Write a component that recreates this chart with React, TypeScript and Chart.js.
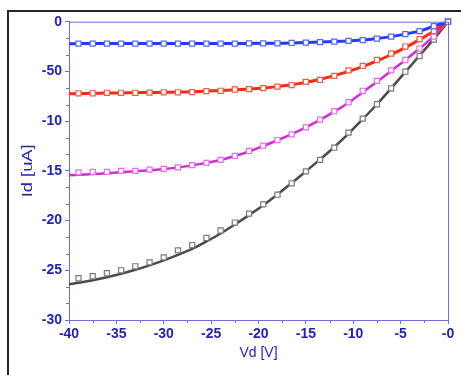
import { useEffect, useRef } from 'react';
import { Chart, registerables } from 'chart.js';

Chart.register(...registerables);

// Measured drain voltages (V)
const xMeas = [-39, -37.5, -36, -34.5, -33, -31.5, -30, -28.5, -27, -25.5, -24, -22.5, -21, -19.5, -18, -16.5, -15, -13.5, -12, -10.5, -9, -7.5, -6, -4.5, -3, -1.5, 0];
// Fit curve voltages (V)
const xFit = [-40, -39, -37.5, -36, -34.5, -33, -31.5, -30, -28.5, -27, -25.5, -24, -22.5, -21, -19.5, -18, -16.5, -15, -13.5, -12, -10.5, -9, -7.5, -6, -4.5, -3, -1.5, 0];

// Measured Id (uA)
const blueMeas = [-2.2, -2.2, -2.2, -2.2, -2.2, -2.2, -2.2, -2.2, -2.2, -2.2, -2.2, -2.2, -2.18, -2.18, -2.17, -2.14, -2.1, -2.05, -2.0, -1.93, -1.85, -1.7, -1.5, -1.25, -0.95, -0.45, 0];
const redMeas = [-7.2, -7.2, -7.15, -7.15, -7.15, -7.13, -7.1, -7.1, -7.08, -6.98, -6.95, -6.82, -6.78, -6.68, -6.53, -6.37, -6.05, -5.85, -5.45, -4.9, -4.45, -3.85, -3.2, -2.5, -1.75, -0.95, 0];
const magentaMeas = [-15.15, -15.1, -15.1, -15.0, -15.0, -14.88, -14.8, -14.65, -14.42, -14.2, -13.9, -13.5, -13.0, -12.47, -11.9, -11.33, -10.63, -9.85, -9.0, -8.1, -6.95, -5.95, -4.9, -3.85, -2.7, -1.5, 0];
const grayMeas = [-25.8, -25.6, -25.3, -25.0, -24.6, -24.2, -23.7, -23.0, -22.46, -21.75, -21.0, -20.2, -19.3, -18.37, -17.4, -16.25, -15.05, -13.9, -12.67, -11.16, -9.75, -8.3, -6.7, -5.03, -3.45, -1.8, 0];

// Fit Id (uA)
const blueFit = [-2.22, -2.2, -2.2, -2.2, -2.2, -2.2, -2.2, -2.2, -2.2, -2.2, -2.2, -2.2, -2.2, -2.18, -2.18, -2.17, -2.14, -2.1, -2.05, -2.0, -1.93, -1.85, -1.7, -1.5, -1.25, -0.95, -0.45, 0];
const redFit = [-7.25, -7.22, -7.2, -7.18, -7.16, -7.14, -7.12, -7.1, -7.08, -7.04, -6.98, -6.93, -6.85, -6.77, -6.67, -6.53, -6.35, -6.1, -5.78, -5.42, -5.0, -4.52, -3.95, -3.3, -2.6, -1.8, -0.95, 0];
const magentaFit = [-15.45, -15.4, -15.32, -15.25, -15.15, -15.05, -14.95, -14.82, -14.65, -14.45, -14.2, -13.9, -13.5, -13.05, -12.5, -11.92, -11.3, -10.62, -9.87, -9.05, -8.15, -7.1, -6.05, -4.95, -3.85, -2.7, -1.45, 0];
const grayFit = [-26.4, -26.25, -26.0, -25.7, -25.35, -24.95, -24.5, -24.0, -23.45, -22.85, -22.1, -21.3, -20.4, -19.45, -18.45, -17.38, -16.22, -15.05, -13.85, -12.6, -11.25, -9.8, -8.3, -6.7, -5.05, -3.4, -1.75, 0];

// Tick labels
const xTickValues = [-40, -35, -30, -25, -20, -15, -10, -5, 0];
const xTickLabels = ['-40', '-35', '-30', '-25', '-20', '-15', '-10', '-5', '-0'];
const yTickValues = [0, -5, -10, -15, -20, -25, -30];
const yTickLabels = ['0', '-50', '-10', '-15', '-20', '-25', '-30'];
const yTitle = 'Id [uA]';
const xTitle = 'Vd [V]';

const AXIS = '#6f6fd2';
const LABEL = '#2424a8';
const FONT = '"Liberation Sans", Arial, sans-serif';

const pts = (xs: number[], ys: number[]) => xs.map((x, i) => ({ x, y: ys[i] }));

export default function App() {
  const ref = useRef<HTMLCanvasElement | null>(null);

  useEffect(() => {
    if (!ref.current) return;

    const decor = {
      id: 'decor',
      beforeDraw(chart: any) {
        const ctx = chart.ctx;
        ctx.save();
        ctx.fillStyle = '#ffffff';
        ctx.fillRect(0, 0, chart.width, chart.height);
        ctx.fillStyle = '#262626';
        ctx.fillRect(7, 10, 2, chart.height - 10);
        ctx.fillRect(7, 10, chart.width - 7, 2);
        ctx.restore();
      },
      afterDraw(chart: any) {
        const ctx = chart.ctx;
        const a = chart.chartArea;
        const xs = chart.scales.x;
        const ys = chart.scales.y;
        ctx.save();
        ctx.strokeStyle = AXIS;
        ctx.lineWidth = 1;
        ctx.beginPath();
        ctx.moveTo(a.left, a.top + 0.5);
        ctx.lineTo(a.right + 0.5, a.top + 0.5);
        ctx.moveTo(a.right + 0.5, a.top);
        ctx.lineTo(a.right + 0.5, a.bottom);
        // minor ticks x (one between majors)
        for (let i = 0; i < xTickValues.length - 1; i++) {
          const v = (xTickValues[i] + xTickValues[i + 1]) / 2;
          const px = Math.round(xs.getPixelForValue(v)) + 0.5;
          ctx.moveTo(px, a.bottom);
          ctx.lineTo(px, a.bottom + 3);
        }
        // minor ticks y (two between majors)
        for (let i = 0; i < yTickValues.length - 1; i++) {
          const v0 = yTickValues[i];
          const v1 = yTickValues[i + 1];
          for (const f of [1 / 3, 2 / 3]) {
            const py = Math.round(ys.getPixelForValue(v0 + (v1 - v0) * f)) + 0.5;
            ctx.moveTo(a.left, py);
            ctx.lineTo(a.left - 3, py);
          }
        }
        ctx.stroke();
        // y axis title (elongated lettering as in the original)
        ctx.translate(27.5, (a.top + a.bottom) / 2);
        ctx.rotate(-Math.PI / 2);
        ctx.scale(1.22, 1);
        ctx.fillStyle = LABEL;
        ctx.font = `15px ${FONT}`;
        ctx.textAlign = 'center';
        ctx.textBaseline = 'middle';
        ctx.fillText(yTitle, 0, 0);
        ctx.restore();
      },
    };

    const lineDs = (data: number[], color: string, width: number) => ({
      type: 'line' as const,
      data: pts(xFit, data),
      borderColor: color,
      borderWidth: width,
      pointRadius: 0,
      tension: 0.25,
      fill: false,
      order: 2,
    });
    const markDs = (data: number[], color: string) => ({
      type: 'line' as const,
      data: pts(xMeas, data),
      showLine: false,
      pointStyle: 'rect',
      pointRadius: 3.6,
      pointBorderWidth: 1.2,
      pointBorderColor: color,
      pointBackgroundColor: '#ffffff',
      borderColor: color,
      backgroundColor: '#ffffff',
      clip: false,
      order: 1,
    });

    const chart = new Chart(ref.current, {
      type: 'line',
      data: {
        datasets: [
          markDs(blueMeas, '#5a68e0'),
          markDs(redMeas, '#e2604e'),
          markDs(magentaMeas, '#e46ee8'),
          markDs(grayMeas, '#7a7a7a'),
          lineDs(blueFit, '#1f3cff', 3),
          lineDs(redFit, '#ff2a10', 3),
          lineDs(magentaFit, '#d02cd0', 2.5),
          lineDs(grayFit, '#4a4a4a', 2.5),
        ] as any,
      },
      options: {
        responsive: false,
        animation: false,
        layout: { padding: { left: 8, top: 21.7, right: 13, bottom: 10 } },
        plugins: { legend: { display: false }, tooltip: { enabled: false } },
        scales: {
          x: {
            type: 'linear',
            min: -40,
            max: 0,
            afterFit: (s: any) => { s.height = 45; },
            ticks: {
              stepSize: 5,
              color: LABEL,
              padding: 2,
              maxRotation: 0,
              font: { family: FONT, size: 14, weight: 'bold' },
              callback: (v: any) => {
                const i = xTickValues.indexOf(Number(v));
                return i >= 0 ? xTickLabels[i] : '';
              },
            },
            grid: { drawOnChartArea: false, drawTicks: true, tickLength: 4, color: AXIS },
            border: { display: true, color: AXIS, width: 1 },
            title: {
              display: true,
              text: xTitle,
              color: LABEL,
              font: { family: FONT, size: 14 },
              padding: { top: 0, bottom: 3 },
            },
          },
          y: {
            type: 'linear',
            min: -30,
            max: 0,
            afterFit: (s: any) => { s.width = 61; },
            ticks: {
              stepSize: 5,
              color: LABEL,
              padding: 3,
              font: { family: FONT, size: 14, weight: 'bold' },
              callback: (v: any) => {
                const i = yTickValues.indexOf(Number(v));
                return i >= 0 ? yTickLabels[i] : '';
              },
            },
            grid: { drawOnChartArea: false, drawTicks: true, tickLength: 4, color: AXIS },
            border: { display: true, color: AXIS, width: 1 },
            title: { display: false },
          },
        },
      },
      plugins: [decor],
    });

    return () => chart.destroy();
  }, []);

  return (
    <div style={{ position: 'fixed', left: 0, top: 0, width: 461, height: 375, background: '#fff' }}>
      <canvas ref={ref} width={461} height={375} style={{ width: 461, height: 375, display: 'block' }} />
    </div>
  );
}
